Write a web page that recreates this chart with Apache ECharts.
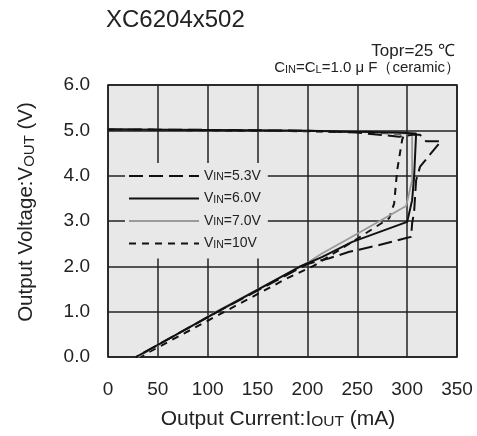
<!DOCTYPE html>
<html>
<head>
<meta charset="utf-8">
<script src="https://cdn.jsdelivr.net/npm/echarts@6/dist/echarts.min.js"></script>
<style>
html,body{margin:0;padding:0;background:#fff;}
#chart{width:477px;height:436px;}
</style>
</head>
<body>
<div id="chart"></div>
<script>
// ---- data (Output Current mA, Output Voltage V) ----
const seriesNames = ['VIN=5.3V', 'VIN=6.0V', 'VIN=7.0V', 'VIN=10V'];

const vin53_I = [0, 100, 200, 250, 292, 305, 313, 319, 334, 313, 309, 307, 305, 304, 300, 272, 242, 222, 200, 110, 28];
const vin53_V = [5.02, 5.01, 4.99, 4.95, 4.86, 4.9, 4.9, 4.76, 4.76, 4.2, 3.9, 3.2, 2.95, 2.65, 2.63, 2.47, 2.32, 2.18, 2.05, 1.0, 0.0];

const vin60_I = [0, 100, 200, 250, 290, 309, 307, 307, 305, 300, 245, 215, 192, 110, 28];
const vin60_V = [5.02, 5.01, 4.99, 4.97, 4.95, 4.93, 4.9, 3.98, 3.46, 2.98, 2.54, 2.21, 1.99, 1.0, 0.0];

const vin70_I = [0, 100, 200, 250, 300, 305, 305, 305, 299, 242, 215, 200, 110, 30];
const vin70_V = [5.02, 5.01, 4.99, 4.97, 4.93, 4.9, 4.86, 3.9, 3.33, 2.62, 2.29, 2.08, 1.02, 0.0];

const vin10_I = [0, 100, 200, 250, 297, 295, 290, 287, 282, 245, 207, 180, 117, 32];
const vin10_V = [5.02, 5.0, 4.98, 4.96, 4.92, 4.79, 4.12, 3.39, 3.06, 2.54, 2.02, 1.74, 1.0, 0.0];

const xTickLabels = ['0', '50', '100', '150', '200', '250', '300', '350'];
const yTickLabels = ['0.0', '1.0', '2.0', '3.0', '4.0', '5.0', '6.0'];

const titleText = 'XC6204x502';

// ---- build ----
const FONT = '"Liberation Sans", Arial, Helvetica, sans-serif';
function pairs(xs, ys) { return xs.map((x, i) => [x, ys[i]]); }

const styles = [
  { color: '#111', width: 2, type: [14, 6] },
  { color: '#111', width: 2, type: 'solid' },
  { color: '#9a9a9a', width: 1.8, type: 'solid' },
  { color: '#111', width: 2, type: [7, 6] }
];
const dataSets = [pairs(vin53_I, vin53_V), pairs(vin60_I, vin60_V), pairs(vin70_I, vin70_V), pairs(vin10_I, vin10_V)];

const chart = echarts.init(document.getElementById('chart'), null, { renderer: 'canvas' });

const option = {
  animation: false,
  backgroundColor: '#fff',
  textStyle: { fontFamily: FONT },
  title: {
    text: titleText,
    left: 106, top: 8, padding: 0,
    textStyle: { fontFamily: FONT, fontSize: 24, fontWeight: 'normal', color: '#222' }
  },
  graphic: [
    {
      type: 'text', right: 22, top: 43,
      style: { text: 'Topr=25 ℃', font: '17px ' + FONT, fill: '#222', textAlign: 'right' }
    },
    {
      type: 'text', right: 17, top: 60,
      style: {
        text: '{a|C}{s|IN}{a|=C}{s|L}{a|=1.0}{a| μ F}{a|（ceramic）}',
        fill: '#222',
        rich: {
          a: { fontFamily: FONT, fontSize: 15, fill: '#222', verticalAlign: 'bottom', lineHeight: 17 },
          s: { fontFamily: FONT, fontSize: 11, fill: '#222', verticalAlign: 'bottom', lineHeight: 17 }
        }
      }
    }
  ],
  grid: {
    left: 108, right: 20, top: 85, bottom: 79,
    show: true, backgroundColor: '#e8e8e8', borderColor: '#111', borderWidth: 1.5
  },
  legend: {
    orient: 'vertical',
    left: 125, top: 163,
    padding: [6, 7, 8, 3],
    backgroundColor: '#e8e8e8',
    itemWidth: 70, itemHeight: 14, itemGap: 8.5,
    data: seriesNames,
    itemStyle: { opacity: 0, color: 'transparent', borderWidth: 0 },
    formatter: function (name) {
      return '{a|V}{s|IN}{a|' + name.slice(3) + '}';
    },
    textStyle: {
      color: '#222',
      rich: {
        a: { fontFamily: FONT, fontSize: 14, color: '#222', verticalAlign: 'bottom', lineHeight: 14 },
        s: { fontFamily: FONT, fontSize: 10.5, color: '#222', verticalAlign: 'bottom', lineHeight: 14 }
      }
    }
  },
  xAxis: {
    type: 'value', min: 0, max: 350, interval: 50,
    axisLine: { show: false }, axisTick: { show: false },
    splitLine: { show: true, lineStyle: { color: '#222', width: 1.5 } },
    axisLabel: {
      margin: 23, fontFamily: FONT, fontSize: 19, color: '#222',
      formatter: function (v) { return xTickLabels[Math.round(v / 50)]; }
    },
    name: '{a|Output Current:I}{s|OUT}{a| (mA)}',
    nameLocation: 'middle', nameGap: 49,
    nameTextStyle: {
      padding: [0, 9, 0, 0],
      rich: {
        a: { fontFamily: FONT, fontSize: 21, color: '#222', verticalAlign: 'bottom', lineHeight: 24 },
        s: { fontFamily: FONT, fontSize: 15.5, color: '#222', verticalAlign: 'bottom', lineHeight: 24 }
      }
    }
  },
  yAxis: {
    type: 'value', min: 0, max: 6, interval: 1,
    axisLine: { show: false }, axisTick: { show: false },
    splitLine: { show: true, lineStyle: { color: '#222', width: 1.5 } },
    axisLabel: {
      margin: 18, fontFamily: FONT, fontSize: 19, color: '#222',
      formatter: function (v) { return yTickLabels[Math.round(v)]; }
    },
    name: '{a|Output Voltage:V}{s|OUT}{a| (V)}',
    nameLocation: 'middle', nameGap: 71,
    nameTextStyle: {
      padding: [0, 0, 0, 18],
      rich: {
        a: { fontFamily: FONT, fontSize: 20.5, color: '#222', verticalAlign: 'bottom', lineHeight: 24 },
        s: { fontFamily: FONT, fontSize: 15, color: '#222', verticalAlign: 'bottom', lineHeight: 24 }
      }
    }
  },
  series: seriesNames.map((n, i) => ({
    name: n,
    type: 'line',
    data: dataSets[i],
    symbol: 'none',
    showSymbol: false,
    smooth: false,
    z: 10 - i,
    itemStyle: { color: styles[i].color },
    lineStyle: { color: styles[i].color, width: styles[i].width, type: styles[i].type }
  }))
};

chart.setOption(option);
</script>
</body>
</html>
